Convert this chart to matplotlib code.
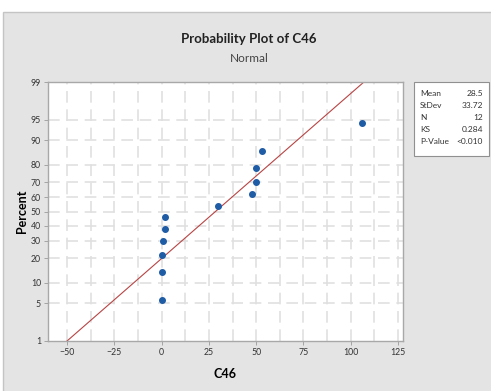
import matplotlib
matplotlib.use("Agg")
import matplotlib.pyplot as plt
from matplotlib.patches import Rectangle
from statistics import NormalDist

# values
c46 = [0, 0, 0, 1, 2, 2, 30, 48, 50, 50, 53, 106]
percent = [5.6, 13.7, 21.8, 29.8, 37.9, 46.0, 54.0, 62.1, 70.2, 78.2, 86.3, 94.4]
mean = 28.5
stdev = 33.72
stats_names = ["Mean", "StDev", "N", "KS", "P-Value"]
stats_values = ["28.5", "33.72", "12", "0.284", "<0.010"]
y_ticks = [1, 5, 10, 20, 30, 40, 50, 60, 70, 80, 90, 95, 99]
x_ticks = [-50, -25, 0, 25, 50, 75, 100, 125]

nd = NormalDist()


def z(p):
    return nd.inv_cdf(p / 100.0)


plt.rcParams["font.family"] = ["Lato", "DejaVu Sans"]

fig = plt.figure(figsize=(4.91, 3.91), dpi=100)
fig.patch.set_facecolor("white")

# grey panel behind the chart
fig.patches.append(Rectangle((3 / 491, -0.01), 1, 1 - 12 / 391 + 0.01, transform=fig.transFigure,
                             facecolor="#e4e4e4", edgecolor="#c4c4c4", lw=1.0, zorder=-10))

ax = fig.add_axes([48 / 491, 1 - 341 / 391, 355 / 491, 259 / 391])
ax.set_zorder(1)
ax.set_facecolor("white")

grid_kw = dict(color="#e0e0e0", lw=1.2, ls=(0, (7, 4)), zorder=0)
gx = [x_ticks[0] + 12.5 * i for i in range(15)]
for x in gx:
    ax.axvline(x, **grid_kw)
for p in y_ticks[1:-1]:
    ax.axhline(z(p), **grid_kw)

# fitted normal line from 1% to 99%
ax.plot([mean + stdev * z(1), mean + stdev * z(99)], [z(1), z(99)],
        color="#b84444", lw=0.8, zorder=2)
ax.plot(c46, [z(p) for p in percent], "o", color="#1f5ca6", ms=4, zorder=3)

ax.set_xlim(-60, 127.6)
ax.set_ylim(z(1), z(99))
ax.set_xticks(x_ticks)
ax.set_yticks([z(p) for p in y_ticks])
ax.set_yticklabels([str(p) for p in y_ticks])
ax.tick_params(labelsize=6.3, colors="#333333", length=3, width=0.6, color="#999999", pad=2)
for s in ax.spines.values():
    s.set_color("#a8a8a8")
    s.set_linewidth(1.0)

ax.set_xlabel("C46", fontsize=9, fontweight="bold", labelpad=8)
ax.set_ylabel("Percent", fontsize=9, fontweight="bold", labelpad=2)

fig.text(249 / 491, 1 - 39 / 391, "Probability Plot of C46", ha="center", va="center",
         fontsize=9.5, fontweight="bold", color="#222222")
fig.text(249 / 491, 1 - 58 / 391, "Normal", ha="center", va="center",
         fontsize=8.5, color="#444444")

# statistics box
fig.patches.append(Rectangle((414 / 491, 1 - 156 / 391), 75 / 491, 74 / 391,
                             transform=fig.transFigure, facecolor="white",
                             edgecolor="#909090", lw=0.8, zorder=2))
for i, (name, val) in enumerate(zip(stats_names, stats_values)):
    yy = 1 - (94 + 12 * i) / 391
    fig.text(420 / 491, yy, name, fontsize=6, va="center", color="#333333")
    fig.text(483 / 491, yy, val, fontsize=6, va="center", ha="right", color="#333333")

fig.savefig("out.png", dpi=100)
